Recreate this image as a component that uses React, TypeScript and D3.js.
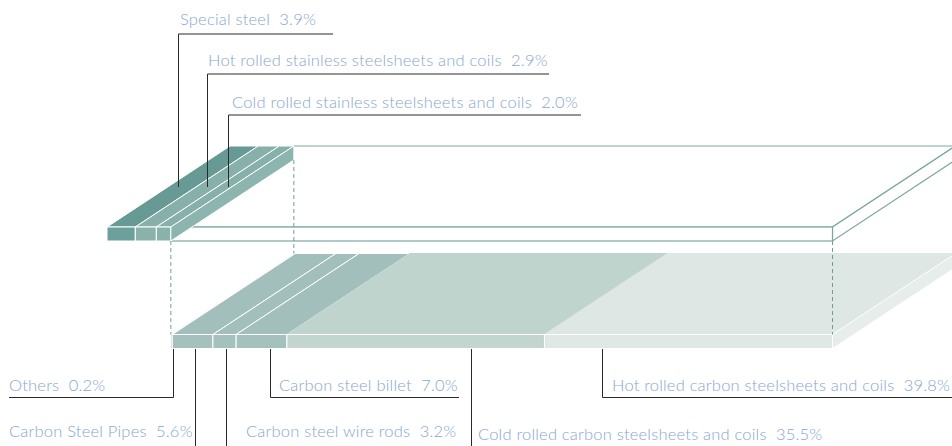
import React from "react";
import * as d3 from "d3";

const topCategories = [
  "Special steel",
  "Hot rolled stainless steelsheets and coils",
  "Cold rolled stainless steelsheets and coils",
];
const topValues = [3.9, 2.9, 2.0];

const bottomCategories = [
  "Others",
  "Carbon Steel Pipes",
  "Carbon steel wire rods",
  "Carbon steel billet",
  "Cold rolled carbon steelsheets and coils",
  "Hot rolled carbon steelsheets and coils",
];
const bottomValues = [0.2, 5.6, 3.2, 7.0, 35.5, 39.8];

const W = 952;
const H = 446;
const DX = 123;
const DY = -81;
const TH = 14;
const TOP_Y = 227;
const BOT_Y = 334.5;

const topFront = ["#6da09a", "#8ab2ad", "#8ab2ad"];
const topTop = ["#679a94", "#88b0ab", "#88b0ab"];
const botFront = ["#a5c1bd", "#a5c1bd", "#a5c1bd", "#a5c1bd", "#c2d5cf", "#e0e8e5"];
const botTop = ["#a3bfbb", "#a3bfbb", "#a3bfbb", "#a3bfbb", "#c0d4ce", "#dfe7e4"];
const botSide = "#e6edeb";
const topSide = "#8db5b0";
const outline = "#7aa8a2";
const textColor = "#88a6d0";
const leaderColor = "#2a2a2a";

const topLabelLayout = [
  { tx: 180, ty: 25, lx: 178.5, ly: 34, ux1: 333 },
  { tx: 208, ty: 66, lx: 207.5, ly: 74, ux1: 549 },
  { tx: 232, ty: 108, lx: 228.5, ly: 115, ux1: 581 },
];
const bottomLabelLayout = [
  { tx: 9, ty: 391, lx: 173.5, ly: 397.5, ux0: 9, ux1: 173.5 },
  { tx: 9, ty: 437, lx: 195.5, ly: 460, ux0: null, ux1: null },
  { tx: 246, ty: 437, lx: 226.5, ly: 460, ux0: null, ux1: null },
  { tx: 279, ty: 391, lx: 270.5, ly: 397.5, ux0: 270.5, ux1: 459 },
  { tx: 478, ty: 440, lx: 471.5, ly: 460, ux0: null, ux1: null },
  { tx: 612, ty: 391, lx: 602.5, ly: 397.5, ux0: 602.5, ux1: 952 },
];

function pts(p: [number, number][]) {
  return p.map((d) => d.join(",")).join(" ");
}

export default function App() {
  const x = d3.scaleLinear().domain([0, 100]).range([107, 832.5]);

  const topSum = d3.sum(topValues);
  const topCum = topValues.map((_, i) => d3.sum(topValues.slice(0, i)));
  const botCum = bottomValues.map((_, i) => topSum + d3.sum(bottomValues.slice(0, i)));

  const topFace = (x0: number, x1: number, y: number): [number, number][] => [
    [x0, y],
    [x1, y],
    [x1 + DX, y + DY],
    [x0 + DX, y + DY],
  ];
  const sideFace = (x1: number, y: number): [number, number][] => [
    [x1, y],
    [x1 + DX, y + DY],
    [x1 + DX, y + DY + TH],
    [x1, y + TH],
  ];

  const xs = x(topSum);
  const xe = x(100);

  const fmt = (v: number) => v.toFixed(1) + "%";
  const textProps = {
    fill: textColor,
    fontSize: 16.5,
    fontWeight: 300,
    letterSpacing: 0.2,
    style: { whiteSpace: "pre" as const },
  };

  return (
    <svg
      width={W}
      height={H}
      style={{ position: "absolute", left: 0, top: 0, background: "#fff" }}
      fontFamily="Lato, 'Open Sans', sans-serif"
    >
      <g fill="#fff" stroke={outline} strokeWidth={1.2}>
        <polygon points={pts(topFace(xs, xe, TOP_Y))} />
        <polygon points={pts(sideFace(xe, TOP_Y))} />
        <rect x={xs} y={TOP_Y} width={xe - xs} height={TH} />
      </g>
      <g stroke="#fff" strokeWidth={1}>
        {topValues.map((v, i) => {
          const x0 = x(topCum[i]);
          const x1 = x(topCum[i] + v);
          return (
            <g key={i}>
              <polygon points={pts(topFace(x0, x1, TOP_Y))} fill={topTop[i]} />
              <rect x={x0} y={TOP_Y} width={x1 - x0} height={TH} fill={topFront[i]} />
            </g>
          );
        })}
        <polygon points={pts(sideFace(xs, TOP_Y))} fill={topSide} />
      </g>

      <g stroke="#fff" strokeWidth={1}>
        {bottomValues.map((v, i) => {
          const x0 = x(botCum[i]);
          const x1 = x(botCum[i] + v);
          return (
            <polygon key={"t" + i} points={pts(topFace(x0, x1, BOT_Y))} fill={botTop[i]} stroke={i < 4 ? "#fff" : botTop[i]} />
          );
        })}
        {bottomValues.map((v, i) => {
          const x0 = x(botCum[i]);
          const x1 = x(botCum[i] + v);
          return <rect key={"f" + i} x={x0} y={BOT_Y} width={x1 - x0} height={TH} fill={botFront[i]} />;
        })}
        <polygon points={pts(sideFace(xe, BOT_Y))} fill={botSide} />
      </g>

      <g stroke="#6f9c97" strokeWidth={1} strokeDasharray="4,3">
        <line x1={xs} x2={xs} y1={TOP_Y + TH} y2={BOT_Y} />
        <line x1={xs + DX} x2={xs + DX} y1={TOP_Y + DY + TH} y2={BOT_Y + DY} />
        <line x1={xe} x2={xe} y1={TOP_Y + TH} y2={BOT_Y} />
      </g>

      {topCategories.map((c, i) => {
        const l = topLabelLayout[i];
        return (
          <g key={"tl" + i}>
            <path d={`M${l.ux1},${l.ly}H${l.lx}V187`} fill="none" stroke={leaderColor} strokeWidth={1} />
            <text x={l.tx} y={l.ty} {...textProps}>
              {c + "  " + fmt(topValues[i])}
            </text>
          </g>
        );
      })}

      {bottomCategories.map((c, i) => {
        const l = bottomLabelLayout[i];
        const d =
          l.ux0 != null
            ? `M${l.lx},${BOT_Y + TH + 0.5}V${l.ly}` + `M${l.ux0},${l.ly}H${l.ux1}`
            : `M${l.lx},${BOT_Y + TH + 0.5}V${l.ly}`;
        return (
          <g key={"bl" + i}>
            <path d={d} fill="none" stroke={leaderColor} strokeWidth={1} />
            <text x={l.tx} y={l.ty} {...textProps}>
              {c + "  " + fmt(bottomValues[i])}
            </text>
          </g>
        );
      })}
    </svg>
  );
}
